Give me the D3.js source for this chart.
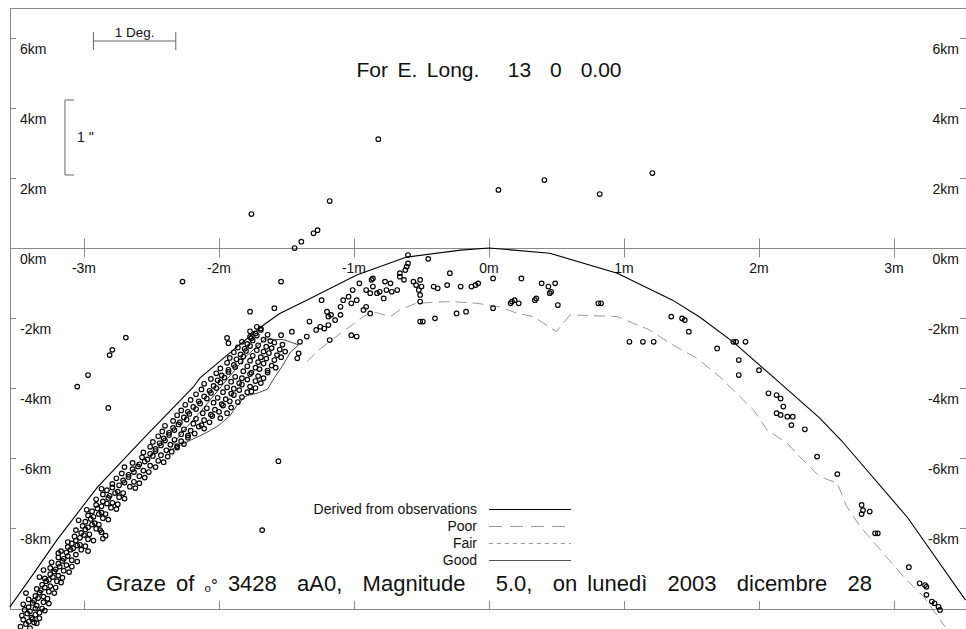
<!DOCTYPE html>
<html>
<head>
<meta charset="utf-8">
<script src="https://cdn.jsdelivr.net/npm/d3@7"></script>
<style>
  body { margin: 0; background: #fff; }
  svg { display: block; font-family: "Liberation Sans", Arial, sans-serif; }
  text { white-space: pre; fill: #111; }
</style>
</head>
<body>
<div id="chart"></div>
<script>
// axis ticks
var xTicks = [-3, -2, -1, 0, 1, 2, 3];
var yTicks = [6, 4, 2, 0, -2, -4, -6, -8];

// limit line derived from observations (minutes, km)
var derivedM  = [-3.55, -3.38, -3.2, -2.9, -2.55, -2.19, -2.14, -1.88, -1.67, -1.55, -1.35, -0.98, -0.61, -0.21, 0, 0.45, 0.95, 1.36, 1.56, 1.81, 2.1, 2.45, 2.61, 3.1, 3.53];
var derivedKm = [-10.26, -9.34, -8.34, -6.83, -5.4, -3.97, -3.71, -2.87, -2.2, -1.87, -1.49, -0.77, -0.26, -0.06, 0, -0.15, -0.72, -1.49, -1.97, -2.69, -3.67, -4.86, -5.5, -7.7, -10.06];

// "poor" profile line
var poorM  = [-1.35, -1.26, -1.10, -0.93, -0.86, -0.73, -0.66, -0.54, -0.29, -0.09, 0.08, 0.21, 0.33, 0.50, 0.60, 0.95, 1.19, 1.34, 1.54, 1.71, 1.81, 1.96, 2.06, 2.21, 2.30, 2.45, 2.58, 2.65, 2.75, 2.90, 3.07, 3.22, 3.38];
var poorKm = [-3.25, -2.91, -2.44, -1.96, -1.82, -1.96, -1.77, -1.58, -1.53, -1.58, -1.68, -1.87, -1.96, -2.39, -1.91, -1.96, -2.34, -2.72, -3.15, -3.68, -4.06, -4.63, -5.2, -5.58, -5.96, -6.53, -6.72, -7.39, -7.96, -8.63, -9.39, -9.96, -10.83];

// "good" envelope round the dense cluster
var goodM  = [-2.36, -2.21, -2.10, -2.01, -1.92, -1.86, -1.80, -1.71, -1.64, -1.59, -1.53, -1.47, -1.41, -1.52, -1.66, -1.80, -1.95, -2.12, -2.28, -2.38];
var goodKm = [-5.77, -5.49, -5.29, -5.09, -4.80, -4.46, -4.23, -4.14, -4.03, -3.71, -3.37, -2.97, -2.77, -2.62, -2.60, -3.10, -3.80, -4.60, -5.30, -5.83];

// observed events along the southern limit (minutes, km)
var obsBand = [
  [-3.47,-10.82],[-3.43,-10.74],[-3.40,-10.86],[-3.37,-10.7],
  [-3.45,-10.62],[-3.41,-10.68],[-3.38,-10.6],[-3.35,-10.72],
  [-3.46,-10.5],[-3.42,-10.44],[-3.39,-10.56],[-3.36,-10.48],[-3.33,-10.58],
  [-3.44,-10.34],[-3.40,-10.38],[-3.36,-10.3],[-3.33,-10.42],[-3.29,-10.36],
  [-3.45,-10.18],[-3.41,-10.26],[-3.38,-10.14],[-3.35,-10.22],[-3.31,-10.3],
  [-3.41,-10.04],[-3.37,-10.08],[-3.34,-10.0],[-3.30,-10.12],[-3.26,-10.16],
  [-3.43,-9.86],[-3.36,-9.94],[-3.33,-9.84],[-3.30,-9.96],[-3.27,-10.02],
  [-3.35,-9.74],[-3.32,-9.78],[-3.29,-9.7],[-3.26,-9.82],[-3.22,-9.86],
  [-3.33,-9.4],[-3.31,-9.62],[-3.28,-9.52],[-3.25,-9.66],[-3.21,-9.7],
  [-3.29,-9.44],[-3.26,-9.48],[-3.23,-9.4],[-3.20,-9.52],[-3.17,-9.56],
  [-3.30,-9.2],[-3.25,-9.32],[-3.22,-9.24],[-3.19,-9.36],[-3.16,-9.42],
  [-3.25,-9.14],[-3.21,-9.18],[-3.18,-9.1],[-3.15,-9.22],[-3.11,-9.26],
  [-3.24,-8.98],[-3.19,-9.02],[-3.16,-8.94],[-3.13,-9.06],[-3.09,-9.1],
  [-3.19,-8.84],[-3.15,-8.88],[-3.12,-8.8],[-3.09,-8.92],[-3.05,-8.96],
  [-3.19,-8.72],[-3.17,-8.66],[-3.13,-8.7],[-3.10,-8.62],[-3.06,-8.76],
  [-3.12,-8.54],[-3.08,-8.58],[-3.05,-8.5],[-3.02,-8.62],[-2.97,-8.66],
  [-3.12,-8.4],[-3.09,-8.44],[-3.06,-8.36],[-3.03,-8.48],[-2.99,-8.52],[-2.86,-8.3],
  [-3.07,-8.24],[-3.03,-8.28],[-3.00,-8.2],[-2.97,-8.32],[-2.93,-8.36],
  [-3.06,-8.06],[-3.02,-8.14],[-2.99,-8.04],[-2.96,-8.18],[-2.84,-8.22],[-2.87,-8.12],
  [-3.01,-7.94],[-2.97,-7.98],[-2.94,-7.9],[-2.91,-8.02],[-2.88,-8.06],
  [-3.04,-7.78],[-2.99,-7.82],[-2.95,-7.74],[-2.92,-7.86],[-2.89,-7.9],
  [-2.97,-7.64],[-2.93,-7.68],[-2.89,-7.6],[-2.86,-7.72],[-2.82,-7.76],
  [-2.98,-7.48],[-2.94,-7.52],[-2.90,-7.44],[-2.87,-7.56],[-2.84,-7.6],
  [-2.91,-7.34],[-2.87,-7.38],[-2.83,-7.3],[-2.80,-7.42],[-2.76,-7.46],
  [-2.91,-7.18],[-2.86,-7.24],[-2.82,-7.14],[-2.79,-7.28],[-2.75,-7.32],
  [-2.86,-7.04],[-2.81,-7.08],[-2.77,-7.0],[-2.74,-7.12],[-2.70,-7.16],
  [-2.87,-6.88],[-2.83,-6.92],[-2.79,-6.84],[-2.75,-6.96],[-2.71,-7.0],
  [-2.79,-6.74],[-2.74,-6.78],[-2.70,-6.7],[-2.66,-6.82],[-2.62,-6.86],
  [-2.76,-6.58],[-2.71,-6.64],[-2.67,-6.54],[-2.63,-6.68],[-2.59,-6.72],
  [-2.72,-6.44],[-2.67,-6.48],[-2.63,-6.4],[-2.59,-6.52],[-2.55,-6.56],
  [-2.70,-6.26],[-2.64,-6.32],[-2.60,-6.24],[-2.56,-6.36],[-2.52,-6.4],
  [-2.64,-6.14],[-2.59,-6.18],[-2.55,-6.1],[-2.51,-6.22],[-2.47,-6.26],
  [-2.57,-5.98],[-2.53,-6.04],[-2.49,-5.94],[-2.45,-6.08],[-2.41,-6.12],
  [-2.56,-5.84],[-2.51,-5.88],[-2.47,-5.8],[-2.43,-5.92],[-2.38,-5.96],
  [-2.51,-5.68],[-2.47,-5.74],[-2.43,-5.64],[-2.39,-5.78],[-2.35,-5.82],[-2.31,-5.7],
  [-2.49,-5.54],[-2.44,-5.58],[-2.40,-5.5],[-2.36,-5.62],[-2.31,-5.66],[-2.26,-5.6],
  [-2.45,-5.38],[-2.41,-5.44],[-2.37,-5.34],[-2.33,-5.48],[-2.28,-5.52],[-2.23,-5.42],
  [-2.42,-5.24],[-2.37,-5.28],[-2.33,-5.2],[-2.28,-5.32],[-2.23,-5.36],[-2.18,-5.3],
  [-2.40,-5.08],[-2.34,-5.14],[-2.30,-5.04],[-2.26,-5.18],[-2.21,-5.22],[-2.15,-5.1],[-2.11,-5.16],
  [-2.34,-4.94],[-2.29,-4.98],[-2.24,-4.9],[-2.19,-5.02],[-2.13,-5.06],[-2.07,-4.98],
  [-2.31,-4.78],[-2.26,-4.84],[-2.22,-4.74],[-2.17,-4.88],[-2.11,-4.92],[-2.05,-4.8],[-1.99,-4.86],
  [-2.28,-4.64],[-2.23,-4.68],[-2.17,-4.6],[-2.12,-4.72],[-2.06,-4.76],[-2.00,-4.68],[-1.94,-4.72],
  [-2.25,-4.48],[-2.19,-4.54],[-2.14,-4.44],[-2.09,-4.58],[-2.03,-4.62],[-1.97,-4.5],[-1.91,-4.56],
  [-2.21,-4.34],[-2.15,-4.38],[-2.09,-4.3],[-2.04,-4.42],[-1.98,-4.46],[-1.92,-4.38],[-1.86,-4.4],
  [-2.17,-4.18],[-2.11,-4.24],[-2.06,-4.14],[-2.01,-4.28],[-1.95,-4.32],[-1.89,-4.2],[-1.83,-4.26],[-1.76,-4.1],
  [-2.13,-4.04],[-2.07,-4.08],[-2.02,-4.0],[-1.97,-4.12],[-1.91,-4.16],[-1.85,-4.06],[-1.79,-4.12],[-1.73,-4.0],
  [-2.11,-3.88],[-2.04,-3.94],[-1.99,-3.84],[-1.94,-3.98],[-1.89,-4.02],[-1.83,-3.9],[-1.77,-3.96],[-1.69,-3.86],
  [-2.06,-3.74],[-2.01,-3.78],[-1.96,-3.7],[-1.91,-3.82],[-1.85,-3.86],[-1.79,-3.76],[-1.73,-3.8],[-1.67,-3.72],
  [-2.02,-3.58],[-1.98,-3.64],[-1.93,-3.54],[-1.88,-3.68],[-1.83,-3.72],[-1.77,-3.6],[-1.71,-3.66],[-1.64,-3.56],
  [-1.99,-3.44],[-1.93,-3.48],[-1.88,-3.4],[-1.82,-3.52],[-1.76,-3.56],[-1.70,-3.46],[-1.64,-3.5],[-1.58,-3.42],
  [-1.94,-3.28],[-1.89,-3.34],[-1.84,-3.24],[-1.79,-3.38],[-1.73,-3.42],[-1.67,-3.3],[-1.61,-3.36],
  [-1.92,-3.14],[-1.87,-3.18],[-1.82,-3.1],[-1.77,-3.22],[-1.71,-3.26],[-1.65,-3.16],[-1.59,-3.2],[-1.54,-3.12],
  [-1.89,-2.98],[-1.84,-3.04],[-1.80,-2.94],[-1.75,-3.08],[-1.69,-3.12],[-1.63,-3.0],[-1.57,-3.06],[-1.51,-2.96],
  [-1.86,-2.84],[-1.81,-2.88],[-1.77,-2.8],[-1.72,-2.92],[-1.67,-2.96],[-1.61,-2.86],[-1.55,-2.9],
  [-1.83,-2.68],[-1.79,-2.74],[-1.75,-2.64],[-1.71,-2.78],[-1.65,-2.82],[-1.59,-2.7],[-1.53,-2.76],
  [-1.77,-2.54],[-1.76,-2.58],[-1.72,-2.5],[-1.67,-2.62],[-1.62,-2.66],
  [-1.77,-2.38],[-1.73,-2.44],[-1.69,-2.34],[-1.64,-2.48],
  [-1.72,-2.25],[-1.69,-2.3]
];

var obsScatter = [
  [-0.82,3.11],[0.07,1.66],[0.41,1.94],[0.82,1.54],[1.21,2.14],[-1.76,0.97],
  [-1.44,0.0],[-1.39,0.18],[-1.30,0.42],[-1.27,0.51],[-1.18,1.34],
  [-2.27,-0.96],[-1.54,-0.96],[-1.77,-1.82],[-1.59,-1.72],[-1.94,-2.57],[-1.93,-2.72],
  [-2.69,-2.56],[-2.81,-3.06],[-2.79,-2.91],[-3.05,-3.96],[-2.97,-3.63],[-2.82,-4.57],[-1.56,-6.09],[-1.68,-8.06],
  [-1.54,-2.49],[-1.46,-2.39],[-1.33,-2.1],[-1.28,-2.34],[-1.25,-2.25],[-1.22,-2.3],[-1.19,-2.2],[-1.40,-2.68],
  [-1.35,-2.53],[-1.41,-3.01],[-1.42,-3.15],[-1.24,-1.49],[-1.20,-1.82],[-1.19,-1.96],[-1.17,-1.91],[-1.14,-2.06],
  [-1.10,-1.91],[-1.18,-2.63],[-1.02,-2.49],[-0.98,-2.53],[-1.10,-1.68],[-1.08,-1.49],[-1.04,-1.39],[-1.01,-1.2],
  [-0.98,-1.49],[-1.02,-1.58],[-0.93,-1.77],[-0.91,-1.68],[-0.88,-1.87],[-0.96,-1.01],[-0.91,-1.2],[-0.88,-1.29],
  [-0.87,-0.91],[-0.86,-0.87],[-0.86,-1.1],[-0.83,-1.29],[-0.81,-1.25],[-0.78,-1.44],[-0.76,-1.2],[-0.72,-1.25],
  [-0.68,-1.2],[-0.77,-0.96],[-0.73,-1.01],[-0.66,-0.82],[-0.63,-0.91],[-0.66,-0.72],[-0.62,-0.63],[-0.61,-0.53],
  [-0.60,-0.44],[-0.60,-0.2],[-0.45,-0.31],[-0.56,-0.96],[-0.54,-1.06],[-0.51,-0.91],[-0.52,-1.2],[-0.50,-1.1],
  [-0.51,-1.34],[-0.51,-1.53],[-0.41,-1.1],[-0.38,-1.15],[-0.31,-1.06],[-0.29,-0.72],[-0.21,-1.1],[-0.13,-1.1],
  [-0.10,-1.06],[-0.08,-1.01],[0.03,-0.87],[0.24,-0.87],[0.39,-1.01],[0.44,-1.1],[0.46,-1.25],[0.49,-1.01],
  [0.45,-1.29],[0.51,-1.63],[0.35,-1.44],[0.34,-1.49],[0.17,-1.53],[0.19,-1.49],[0.22,-1.58],[0.16,-1.58],
  [0.03,-1.72],[-0.24,-1.87],[-0.17,-1.82],[-0.51,-2.1],[-0.49,-2.1],[-0.40,-2.01],[0.81,-1.58],[0.83,-1.58],
  [1.04,-2.68],[1.14,-2.68],[1.22,-2.68],[1.35,-1.96],[1.43,-2.01],[1.45,-2.06],[1.48,-2.39],
  [1.69,-2.87],[1.81,-2.68],[1.83,-2.68],[1.90,-2.68],[1.85,-3.2],[1.85,-3.63],[2.0,-3.49],[2.07,-4.15],
  [2.13,-4.2],[2.16,-4.3],[2.18,-4.53],[2.13,-4.72],[2.16,-4.77],[2.21,-4.82],[2.25,-4.82],[2.24,-5.06],
  [2.34,-5.18],[2.43,-5.96],[2.58,-6.46],[2.76,-7.34],[2.77,-7.49],[2.76,-7.6],[2.82,-7.53],[2.86,-8.15],
  [2.88,-8.15],[3.11,-9.12],[3.19,-9.58],[3.23,-9.63],[3.24,-9.68],[3.24,-9.91],[3.28,-10.1],[3.30,-10.15],
  [3.33,-10.25],[3.34,-10.34]
];

var legendLabels = ['Derived from observations', 'Poor', 'Fair', 'Good'];
var titleText = 'For E. Long.   13  0  0.00';
var grazeText = ['Graze of ', 'ₒ°', ' 3428  aA0,  Magnitude   5.0,  on lunedì  2003  dicembre  28'];

var width = 966, height = 629;
var frame = { left: 10, right: 968, top: 8, bottom: 609 };
var axisGray = '#8a8a8a';

var x = d3.scaleLinear().domain([-3.548, 3.548]).range([frame.left, frame.right]);
var y = d3.scaleLinear().domain([6.857, -10.314]).range([frame.top, frame.bottom]);

var svg = d3.select('#chart').append('svg')
  .attr('width', width)
  .attr('height', height);

// frame
svg.append('rect')
  .attr('x', frame.left + 0.5).attr('y', frame.top + 0.5)
  .attr('width', frame.right - frame.left).attr('height', frame.bottom - frame.top)
  .attr('fill', 'none').attr('stroke', axisGray);

// time axis along 0 km
var y0 = Math.round(y(0)) + 0.5;
svg.append('line')
  .attr('x1', frame.left).attr('x2', frame.right)
  .attr('y1', y0).attr('y2', y0)
  .attr('stroke', axisGray);

svg.selectAll('line.xtick')
    .data(xTicks)
  .enter().append('line')
    .attr('class', 'xtick')
    .attr('x1', function(d) { return Math.round(x(d)) + 0.5; })
    .attr('x2', function(d) { return Math.round(x(d)) + 0.5; })
    .attr('y1', y0 - 10).attr('y2', y0 + 9)
    .attr('stroke', axisGray);

svg.selectAll('line.btick')
    .data(xTicks)
  .enter().append('line')
    .attr('class', 'btick')
    .attr('x1', function(d) { return Math.round(x(d)) + 0.5; })
    .attr('x2', function(d) { return Math.round(x(d)) + 0.5; })
    .attr('y1', frame.bottom - 8).attr('y2', frame.bottom)
    .attr('stroke', axisGray);

svg.selectAll('text.xlabel')
    .data(xTicks)
  .enter().append('text')
    .attr('class', 'xlabel')
    .attr('x', function(d) { return x(d); })
    .attr('y', y0 + 24)
    .attr('text-anchor', 'middle')
    .attr('font-size', '14px')
    .text(function(d) { return d + 'm'; });

// km ticks, both sides
svg.selectAll('line.ltick')
    .data(yTicks)
  .enter().append('line')
    .attr('class', 'ltick')
    .attr('x1', frame.left).attr('x2', frame.left + 6)
    .attr('y1', function(d) { return Math.round(y(d)) + 0.5; })
    .attr('y2', function(d) { return Math.round(y(d)) + 0.5; })
    .attr('stroke', axisGray);

svg.selectAll('line.rtick')
    .data(yTicks)
  .enter().append('line')
    .attr('class', 'rtick')
    .attr('x1', frame.right - 8).attr('x2', frame.right)
    .attr('y1', function(d) { return Math.round(y(d)) + 0.5; })
    .attr('y2', function(d) { return Math.round(y(d)) + 0.5; })
    .attr('stroke', axisGray);

svg.selectAll('text.llabel')
    .data(yTicks)
  .enter().append('text')
    .attr('class', 'llabel')
    .attr('x', frame.left + 10)
    .attr('y', function(d) { return y(d) + 16; })
    .attr('font-size', '14px')
    .text(function(d) { return d + 'km'; });

svg.selectAll('text.rlabel')
    .data(yTicks)
  .enter().append('text')
    .attr('class', 'rlabel')
    .attr('x', frame.right - 9)
    .attr('y', function(d) { return y(d) + 16; })
    .attr('text-anchor', 'end')
    .attr('font-size', '14px')
    .text(function(d) { return d + 'km'; });

// lines
var line = d3.line()
  .x(function(d) { return x(d[0]); })
  .y(function(d) { return y(d[1]); });

svg.append('path')
  .datum(d3.zip(goodM, goodKm).concat([[goodM[0], goodKm[0]]]))
  .attr('d', line)
  .attr('fill', 'none')
  .attr('stroke', '#333')
  .attr('stroke-width', 0.9);

svg.append('path')
  .datum(d3.zip(poorM, poorKm))
  .attr('d', line)
  .attr('fill', 'none')
  .attr('stroke', '#9a9a9a')
  .attr('stroke-dasharray', '11,6');

svg.append('path')
  .datum(d3.zip(derivedM, derivedKm))
  .attr('d', line)
  .attr('fill', 'none')
  .attr('stroke', '#000')
  .attr('stroke-width', 1.1);

// observations
svg.selectAll('circle.obs')
    .data(obsBand.concat(obsScatter))
  .enter().append('circle')
    .attr('class', 'obs')
    .attr('cx', function(d) { return x(d[0]); })
    .attr('cy', function(d) { return y(d[1]); })
    .attr('r', 2.3)
    .attr('fill', 'none')
    .attr('stroke', '#000')
    .attr('stroke-width', 1.15);

// scale markers: 1 degree and 1 arcsecond
var degBar = { m0: -2.93, m1: -2.32, km: 5.914 };
var gBar = svg.append('g').attr('stroke', '#666');
gBar.append('line')
  .attr('x1', x(degBar.m0)).attr('x2', x(degBar.m1))
  .attr('y1', y(degBar.km)).attr('y2', y(degBar.km));
gBar.selectAll('line.end')
    .data([degBar.m0, degBar.m1])
  .enter().append('line')
    .attr('x1', function(d) { return x(d); })
    .attr('x2', function(d) { return x(d); })
    .attr('y1', y(degBar.km) - 9).attr('y2', y(degBar.km) + 9);
svg.append('text')
  .attr('x', x((degBar.m0 + degBar.m1) / 2))
  .attr('y', y(degBar.km) - 4)
  .attr('text-anchor', 'middle')
  .attr('font-size', '13.5px')
  .text('1 Deg.');

var secBar = { m0: -3.141, m1: -3.074, km0: 4.229, km1: 2.086 };
svg.append('path')
  .attr('d', 'M' + x(secBar.m1) + ',' + y(secBar.km0) +
             'H' + x(secBar.m0) + 'V' + y(secBar.km1) + 'H' + x(secBar.m1))
  .attr('fill', 'none')
  .attr('stroke', '#666');
svg.append('text')
  .attr('x', x(secBar.m1) + 3)
  .attr('y', y((secBar.km0 + secBar.km1) / 2) + 5)
  .attr('font-size', '14px')
  .text("1 ''");

// titles: widen the gaps between words until the line is as wide as in the plot
function fitWords(sel, target) {
  var node = sel.node();
  var natural = node.getComputedTextLength();
  var gaps = (node.textContent.match(/ /g) || []).length;
  if (gaps > 0 && natural < target) {
    sel.style('word-spacing', ((target - natural) / gaps) + 'px');
  }
}

var title = svg.append('text')
  .attr('x', x(0))
  .attr('y', 77)
  .attr('text-anchor', 'middle')
  .attr('font-size', '21px')
  .text(titleText);
fitWords(title, 265);

var graze = svg.append('text')
  .attr('x', x(0))
  .attr('y', 591)
  .attr('text-anchor', 'middle')
  .attr('font-size', '22px');
graze.append('tspan').text(grazeText[0]);
graze.append('tspan').attr('font-size', '17px').text(grazeText[1]);
graze.append('tspan').text(grazeText[2]);
fitWords(graze, 766);

// legend
var legendStyles = [
  { stroke: '#000', dash: null },
  { stroke: '#9a9a9a', dash: '13,8' },
  { stroke: '#9a9a9a', dash: '4,4' },
  { stroke: '#555', dash: null }
];
var legend = svg.selectAll('g.legend')
    .data(legendLabels)
  .enter().append('g')
    .attr('class', 'legend')
    .attr('transform', function(d, i) { return 'translate(0,' + (509 + i * 17) + ')'; });

legend.append('text')
  .attr('x', 477)
  .attr('y', 4.5)
  .attr('text-anchor', 'end')
  .attr('font-size', '14px')
  .text(function(d) { return d; });

legend.append('line')
  .attr('x1', 489).attr('x2', 571)
  .attr('y1', 0.5).attr('y2', 0.5)
  .attr('stroke', function(d, i) { return legendStyles[i].stroke; })
  .attr('stroke-dasharray', function(d, i) { return legendStyles[i].dash; });
</script>
</body>
</html>
